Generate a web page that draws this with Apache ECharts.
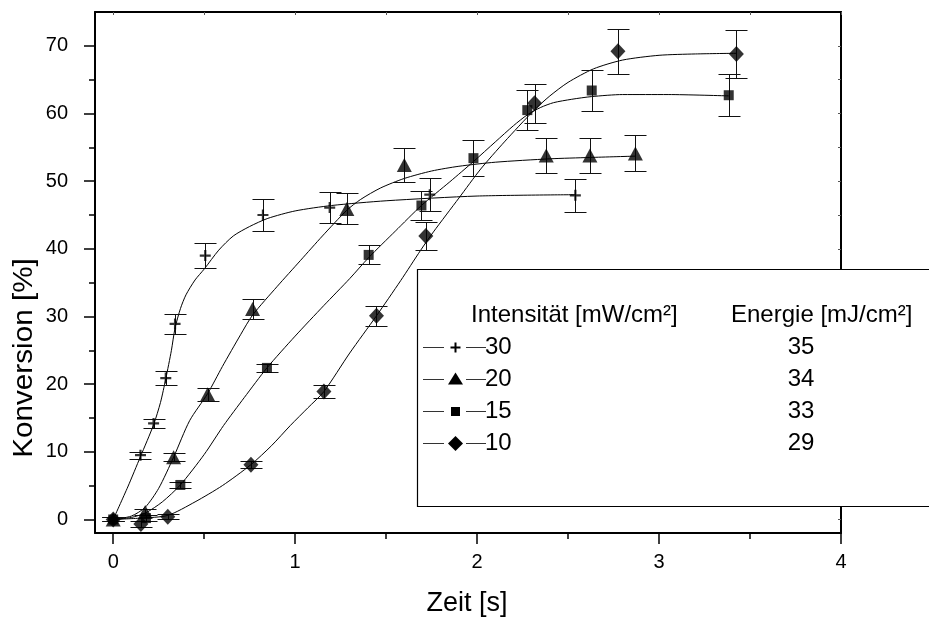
<!DOCTYPE html>
<html>
<head>
<meta charset="utf-8">
<script src="https://cdn.jsdelivr.net/npm/echarts@6/dist/echarts.min.js"></script>
<style>
  html, body { margin: 0; padding: 0; background: #fff; }
  #chart { width: 929px; height: 619px; }
</style>
</head>
<body>
<div id="chart"></div>
<script>
// Axis ticks
const xMajorTicks = [0, 1, 2, 3, 4];
const xMinorTicks = [0.5, 1.5, 2.5, 3.5];
const xTopTicks = [0, 0.5, 1, 1.5, 2, 2.5, 3, 3.5, 4];
const yMajorTicks = [0, 10, 20, 30, 40, 50, 60, 70];
const yMinorTicks = [5, 15, 25, 35, 45, 55, 65];
const yRightTicks = [0, 5, 10, 15, 20, 25, 30, 35, 40, 45, 50, 55, 60, 65, 70];

// Legend table
const intensities = ['30', '20', '15', '10'];
const energies = ['35', '34', '33', '29'];

// Measured points: time [s], conversion [%], error [%]
const t30 = [0, 0.150, 0.222, 0.289, 0.340, 0.506, 0.823, 1.190, 1.740, 2.540];
const k30 = [0, 9.5, 14.2, 20.9, 28.9, 39.0, 45.0, 46.1, 48.0, 47.9];
const e30 = [0.3, 0.5, 0.7, 1.0, 1.45, 1.9, 2.3, 2.35, 2.4, 2.4];

const t20 = [0, 0.176, 0.332, 0.519, 0.766, 1.284, 1.600, 2.380, 2.620, 2.870];
const k20 = [0, 1.1, 9.2, 18.5, 31.1, 45.9, 52.4, 53.8, 53.8, 54.1];
const e20 = [0.3, 0.5, 0.55, 1.0, 1.5, 2.3, 2.5, 2.65, 2.65, 2.65];

const t15 = [0, 0.180, 0.369, 0.845, 1.404, 1.694, 1.980, 2.276, 2.630, 3.383];
const k15 = [0, 0.2, 5.1, 22.4, 39.1, 46.4, 53.4, 60.5, 63.4, 62.7];
const e15 = [0.3, 0.4, 0.4, 0.6, 1.4, 2.2, 2.65, 3.0, 3.1, 3.1];

const t10 = [0, 0.152, 0.300, 0.757, 1.158, 1.447, 1.718, 2.316, 2.774, 3.425];
const k10 = [0, -0.66, 0.4, 8.1, 18.9, 30.1, 41.9, 61.5, 69.2, 68.8];
const e10 = [0.3, 0.4, 0.4, 0.5, 1.0, 1.5, 2.1, 2.9, 3.3, 3.5];

// Fitted curves
const c30x = [0, 0.08, 0.15, 0.222, 0.26, 0.289, 0.32, 0.34, 0.37, 0.40, 0.45, 0.50, 0.58, 0.66, 0.75, 0.85, 1.0, 1.2, 1.5, 2.0, 2.54];
const c30y = [0, 4.8, 9.3, 14.0, 17.3, 20.8, 25.0, 28.3, 31.2, 33.2, 35.4, 37.0, 39.8, 41.9, 43.3, 44.5, 45.6, 46.4, 47.1, 47.8, 48.0];

const c20x = [0, 0.1, 0.176, 0.25, 0.332, 0.42, 0.519, 0.6, 0.7, 0.766, 0.9, 1.03, 1.15, 1.284, 1.36, 1.47, 1.6, 1.75, 1.9, 2.1, 2.4, 2.62, 2.87];
const c20y = [0, 0.5, 1.8, 4.6, 9.2, 14.6, 18.6, 22.6, 27.3, 30.2, 34.4, 38.3, 41.9, 45.7, 47.3, 49.0, 50.4, 51.5, 52.2, 52.8, 53.3, 53.5, 53.7];

const c15x = [0, 0.1, 0.18, 0.27, 0.369, 0.5, 0.607, 0.72, 0.845, 1.0, 1.157, 1.3, 1.404, 1.55, 1.694, 1.85, 1.98, 2.1, 2.2, 2.276, 2.35, 2.42, 2.52, 2.63, 2.8, 3.05, 3.383];
const c15y = [0, 0.3, 1.0, 2.6, 5.1, 9.6, 13.9, 18.0, 22.4, 27.1, 31.6, 35.6, 38.7, 42.6, 46.4, 49.9, 52.9, 55.8, 58.2, 59.8, 60.9, 61.6, 62.1, 62.5, 62.8, 62.8, 62.6];

const c10x = [0, 0.15, 0.3, 0.45, 0.6, 0.757, 0.87, 0.974, 1.07, 1.158, 1.3, 1.447, 1.58, 1.69, 1.76, 1.9, 2.02, 2.15, 2.31, 2.4, 2.5, 2.64, 2.8, 3.0, 3.2, 3.425];
const c10y = [0, 0.2, 0.6, 2.6, 5.0, 8.1, 10.9, 13.9, 16.5, 18.9, 24.6, 30.1, 35.3, 39.8, 42.5, 47.5, 51.8, 55.8, 60.4, 62.6, 64.6, 66.6, 67.9, 68.6, 68.8, 68.9];

const FONT = 'Liberation Sans, Arial, sans-serif';
const plusPath = 'path://M4,0H6V4H10V6H6V10H4V6H0V4H4Z';

function pairs(xs, ys) { return xs.map((x, i) => [x, ys[i]]); }
function triples(xs, ys, es) { return xs.map((x, i) => [x, ys[i], es[i]]); }

// Vertical error bar with caps
function errorBar(params, api) {
  const x = api.value(0), y = api.value(1), e = api.value(2);
  const hi = api.coord([x, y + e]);
  const lo = api.coord([x, y - e]);
  const cx = Math.round(hi[0]) + 0.5;
  const yh = Math.round(hi[1]) + 0.5;
  const yl = Math.round(lo[1]) + 0.5;
  const hw = 11;
  const style = { stroke: '#111', lineWidth: 1 };
  return {
    type: 'group',
    children: [
      { type: 'line', shape: { x1: cx, y1: yh, x2: cx, y2: yl }, style },
      { type: 'line', shape: { x1: cx - hw, y1: yh, x2: cx + hw, y2: yh }, style },
      { type: 'line', shape: { x1: cx - hw, y1: yl, x2: cx + hw, y2: yl }, style }
    ]
  };
}

const groups = [
  { t: t30, k: k30, e: e30, cx: c30x, cy: c30y, symbol: plusPath, size: [11, 11] },
  { t: t20, k: k20, e: e20, cx: c20x, cy: c20y, symbol: 'triangle', size: [15, 14] },
  { t: t15, k: k15, e: e15, cx: c15x, cy: c15y, symbol: 'rect', size: [10, 10] },
  { t: t10, k: k10, e: e10, cx: c10x, cy: c10y, symbol: 'diamond', size: [15, 16] }
];

const series = [];
groups.forEach((g) => {
  series.push({
    type: 'line', data: pairs(g.cx, g.cy), smooth: 0.25,
    showSymbol: false, lineStyle: { color: '#000', width: 1 }, silent: true, z: 2
  });
  series.push({
    type: 'custom', data: triples(g.t, g.k, g.e), renderItem: errorBar, silent: true, z: 3
  });
  series.push({
    type: 'scatter', data: pairs(g.t, g.k), symbol: g.symbol, symbolSize: g.size,
    itemStyle: { color: '#000' }, silent: true, z: 4
  });
});

// Legend table drawn inside a white framed box
const legendEls = [];
const boxX = 417, boxY = 269;
legendEls.push({
  type: 'rect', shape: { x: boxX + 0.5, y: boxY + 0.5, width: 600, height: 237 },
  style: { fill: '#fff', stroke: '#000', lineWidth: 1.2 }, z: 50
});
legendEls.push({
  type: 'text', x: 471, y: 315, z: 51,
  style: { text: 'Intensität [mW/cm²]', font: '24px ' + FONT, fill: '#000', verticalAlign: 'middle', align: 'left' }
});
legendEls.push({
  type: 'text', x: 731, y: 315, z: 51,
  style: { text: 'Energie [mJ/cm²]', font: '24px ' + FONT, fill: '#000', verticalAlign: 'middle', align: 'left' }
});
const rowY = [347, 379, 411, 443];
const lineStyleLg = { stroke: '#333', lineWidth: 1 };
function legendMarker(kind, cx, cy) {
  if (kind === 0) {
    return [
      { type: 'line', shape: { x1: cx - 5, y1: cy, x2: cx + 5, y2: cy }, style: { stroke: '#000', lineWidth: 2 }, z: 51 },
      { type: 'line', shape: { x1: cx, y1: cy - 5, x2: cx, y2: cy + 5 }, style: { stroke: '#000', lineWidth: 2 }, z: 51 }
    ];
  }
  if (kind === 1) {
    return [{ type: 'polygon', shape: { points: [[cx, cy - 7], [cx + 7.5, cy + 5], [cx - 7.5, cy + 5]] }, style: { fill: '#000' }, z: 51 }];
  }
  if (kind === 2) {
    return [{ type: 'rect', shape: { x: cx - 4.5, y: cy - 4.5, width: 9, height: 9 }, style: { fill: '#000' }, z: 51 }];
  }
  return [{ type: 'polygon', shape: { points: [[cx, cy - 7.5], [cx + 7.5, cy], [cx, cy + 7.5], [cx - 7.5, cy]] }, style: { fill: '#000' }, z: 51 }];
}
intensities.forEach((label, i) => {
  const y = rowY[i] + 0.5;
  legendEls.push({ type: 'line', shape: { x1: 423, y1: y, x2: 444, y2: y }, style: lineStyleLg, z: 51 });
  legendEls.push({ type: 'line', shape: { x1: 466, y1: y, x2: 486, y2: y }, style: lineStyleLg, z: 51 });
  legendMarker(i, 455.5, y).forEach((el) => legendEls.push(el));
  legendEls.push({
    type: 'text', x: 485, y: rowY[i], z: 51,
    style: { text: label, font: '24px ' + FONT, fill: '#000', verticalAlign: 'middle', align: 'left' }
  });
  legendEls.push({
    type: 'text', x: 801, y: rowY[i], z: 51,
    style: { text: energies[i], font: '24px ' + FONT, fill: '#000', verticalAlign: 'middle', align: 'center' }
  });
});

// Axis titles
const titleEls = [
  { type: 'text', x: 467, y: 604, z: 51,
    style: { text: 'Zeit [s]', font: '27px ' + FONT, fill: '#000', align: 'center', verticalAlign: 'middle' } },
  { type: 'text', x: 25, y: 358, rotation: Math.PI / 2, scaleX: 1.1, z: 51,
    style: { text: 'Konversion [%]', font: '27px ' + FONT, fill: '#000', align: 'center', verticalAlign: 'middle' } }
];

const axisLineStyle = { show: true, lineStyle: { color: '#000', width: 2 } };
const hidden = { show: false };

const option = {
  animation: false,
  backgroundColor: '#fff',
  grid: { left: 95, right: 88, top: 12, bottom: 86, containLabel: false },
  xAxis: [
    {
      type: 'value', position: 'bottom', min: -0.1, max: 4,
      axisLine: { ...axisLineStyle, onZero: false },
      axisTick: { show: true, customValues: xMajorTicks, length: 11, lineStyle: { color: '#000', width: 1.5 } },
      axisLabel: { show: true, customValues: xMajorTicks, margin: 19, fontSize: 20, color: '#000', fontFamily: FONT,
        showMinLabel: true, showMaxLabel: true },
      splitLine: hidden
    },
    {
      type: 'value', position: 'bottom', min: -0.1, max: 4,
      axisLine: { show: false, onZero: false },
      axisTick: { show: true, customValues: xMinorTicks, length: 6, lineStyle: { color: '#000', width: 1.5 } },
      axisLabel: hidden, splitLine: hidden
    },
    {
      type: 'value', position: 'top', min: -0.1, max: 4,
      axisLine: { ...axisLineStyle, onZero: false },
      axisTick: { show: true, inside: true, customValues: xTopTicks, length: 3, lineStyle: { color: '#555', width: 1 } },
      axisLabel: hidden, splitLine: hidden
    }
  ],
  yAxis: [
    {
      type: 'value', position: 'left', min: -2, max: 75,
      axisLine: { ...axisLineStyle, onZero: false },
      axisTick: { show: true, customValues: yMajorTicks, length: 11, lineStyle: { color: '#000', width: 1.5 } },
      axisLabel: { show: true, customValues: yMajorTicks, margin: 27, fontSize: 20, color: '#000', fontFamily: FONT },
      splitLine: hidden
    },
    {
      type: 'value', position: 'left', min: -2, max: 75,
      axisLine: { show: false, onZero: false },
      axisTick: { show: true, customValues: yMinorTicks, length: 6, lineStyle: { color: '#000', width: 1.5 } },
      axisLabel: hidden, splitLine: hidden
    },
    {
      type: 'value', position: 'right', min: -2, max: 75,
      axisLine: { ...axisLineStyle, onZero: false },
      axisTick: { show: true, inside: true, customValues: yRightTicks, length: 3, lineStyle: { color: '#555', width: 1 } },
      axisLabel: hidden, splitLine: hidden
    }
  ],
  graphic: { elements: legendEls.concat(titleEls) },
  series: series
};

const chart = echarts.init(document.getElementById('chart'), null, { renderer: 'canvas' });
chart.setOption(option);
</script>
</body>
</html>
